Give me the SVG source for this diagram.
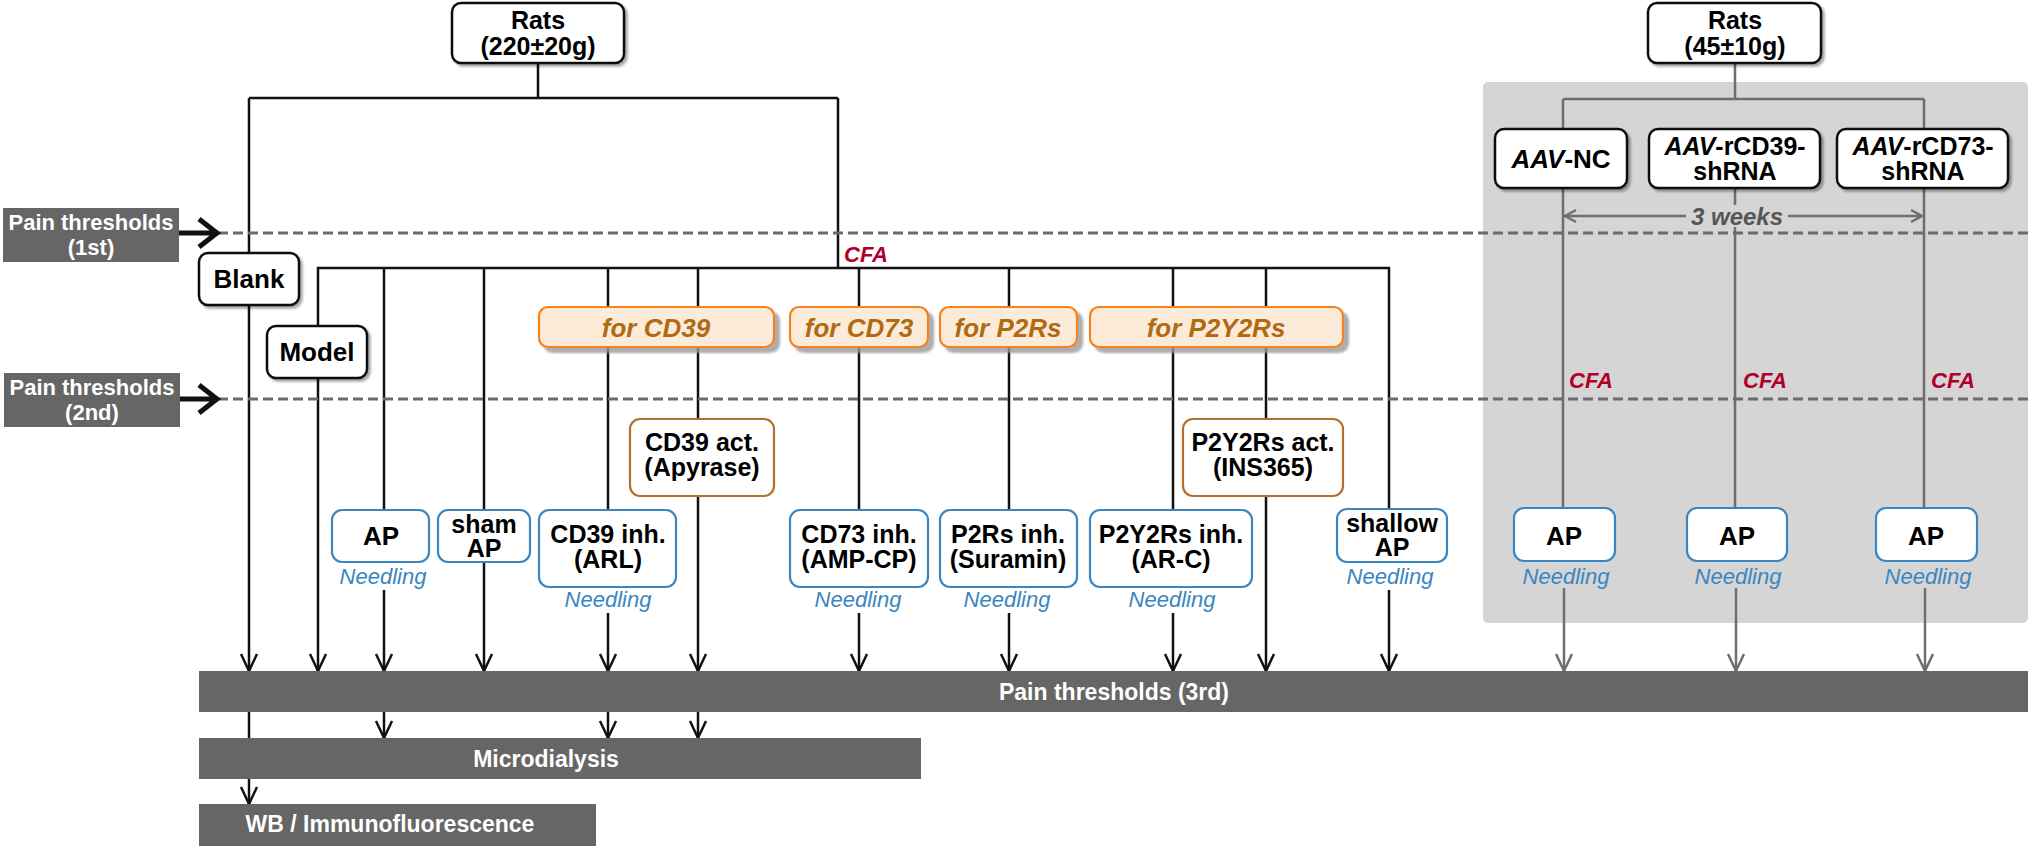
<svg xmlns="http://www.w3.org/2000/svg" width="2032" height="849" viewBox="0 0 2032 849">
<defs>
<style>
text{font-family:"Liberation Sans",Arial,sans-serif}
.bk{fill:#fff;stroke:#111;stroke-width:2.5}
.bl{fill:#fff;stroke:#3a86c0;stroke-width:2.2}
.fo{fill:#fdebd9;stroke:#f5821f;stroke-width:2.2}
.ac{fill:#fff;stroke:#b5702a;stroke-width:2.2}
.t{font-size:26px;font-weight:bold;fill:#000;text-anchor:middle}
.t2{font-size:25px;font-weight:bold;fill:#000;text-anchor:middle}
.ft{font-size:26px;font-weight:bold;font-style:italic;fill:#b06a12;text-anchor:middle}
.nd{font-size:22px;font-style:italic;fill:#3a86c0;text-anchor:middle}
.cfa{font-size:22px;font-weight:bold;font-style:italic;fill:#b0002a}
.bar{fill:#666}
.bt{font-size:23px;font-weight:bold;fill:#fff;text-anchor:middle}
.pt{font-size:22px;font-weight:bold;fill:#fff;text-anchor:middle}
.ln{stroke:#111;stroke-width:2.5;fill:none}
.lg{stroke:#6e6e6e;stroke-width:2.5;fill:none}
.dash{stroke:#6b6b6b;stroke-width:3;stroke-dasharray:10 5;fill:none}
.sh{filter:url(#sh)}
.shf{filter:url(#shf)}
</style>
<filter id="sh" x="-10%" y="-10%" width="130%" height="140%"><feDropShadow dx="2.5" dy="2.5" stdDeviation="1.2" flood-color="#000" flood-opacity="0.35"/></filter>
<filter id="shf" x="-10%" y="-20%" width="130%" height="160%"><feDropShadow dx="5" dy="5" stdDeviation="1.2" flood-color="#999" flood-opacity="0.8"/></filter>
<marker id="ab" markerUnits="userSpaceOnUse" viewBox="-20 -10 22 20" markerWidth="22" markerHeight="20" refX="0" refY="0" orient="auto"><path d="M-17,-8 L0,0 L-17,8" fill="none" stroke="#111" stroke-width="2.5"/></marker>
<marker id="ag" markerUnits="userSpaceOnUse" viewBox="-20 -10 22 20" markerWidth="22" markerHeight="20" refX="0" refY="0" orient="auto"><path d="M-17,-8 L0,0 L-17,8" fill="none" stroke="#6e6e6e" stroke-width="2.5"/></marker>
<marker id="aw" markerUnits="userSpaceOnUse" viewBox="-14 -8 16 16" markerWidth="16" markerHeight="16" refX="0" refY="0" orient="auto"><path d="M-11,-6 L0,0 L-11,6" fill="none" stroke="#6e6e6e" stroke-width="2.5"/></marker>
</defs>
<rect width="2032" height="849" fill="#fff"/>
<g id="panel"><rect x="1483" y="82" width="545" height="541" rx="5" fill="#d5d5d5"/></g>
<g id="connectors">
<path class="ln" d="M538,63 V98 M249,98 H838 M838,98 V268 M318,326 V268 H1389 V509"/>
<path class="ln" d="M249,98 V671" marker-end="url(#ab)"/>
<path class="ln" d="M249,712 V804" marker-end="url(#ab)"/>
<path class="ln" d="M318,378 V671" marker-end="url(#ab)"/>
<path class="ln" d="M384,268 V510 M484,268 V510 M608,268 V510 M698,268 V419 M859,268 V510 M1009,268 V510 M1173,268 V510 M1266,268 V419"/>
<path class="ln" d="M384,590 V671" marker-end="url(#ab)"/>
<path class="ln" d="M384,712 V738" marker-end="url(#ab)"/>
<path class="ln" d="M484,562 V671" marker-end="url(#ab)"/>
<path class="ln" d="M608,613 V671" marker-end="url(#ab)"/>
<path class="ln" d="M608,712 V738" marker-end="url(#ab)"/>
<path class="ln" d="M698,496 V671" marker-end="url(#ab)"/>
<path class="ln" d="M698,712 V738" marker-end="url(#ab)"/>
<path class="ln" d="M859,613 V671" marker-end="url(#ab)"/>
<path class="ln" d="M1009,613 V671" marker-end="url(#ab)"/>
<path class="ln" d="M1173,613 V671" marker-end="url(#ab)"/>
<path class="ln" d="M1266,496 V671" marker-end="url(#ab)"/>
<path class="ln" d="M1389,590 V671" marker-end="url(#ab)"/>
<path class="lg" d="M1735,63 V99 M1563,99 H1924 M1563,99 V129 M1924,99 V129 M1563,188 V508 M1735,188 V205 M1735,227 V508 M1924,188 V508"/>
<path class="lg" d="M1564,588 V671" marker-end="url(#ag)"/>
<path class="lg" d="M1736,588 V671" marker-end="url(#ag)"/>
<path class="lg" d="M1925,588 V671" marker-end="url(#ag)"/>
<path class="lg" d="M1686,216 H1565" marker-end="url(#aw)"/>
<path class="lg" d="M1788,216 H1922" marker-end="url(#aw)"/>
<path class="dash" d="M218,233 H2032 M218,399 H2032"/>
<path d="M179,233 H214 M199,219 L217,233 L199,247" fill="none" stroke="#111" stroke-width="5"/>
<path d="M180,399 H214 M199,385 L217,399 L199,413" fill="none" stroke="#111" stroke-width="5"/>
</g>
<g id="pain1"><rect x="3" y="208" width="176" height="54" fill="#666"/><text class="pt" x="91" y="230">Pain thresholds</text><text class="pt" x="91" y="255">(1st)</text></g>
<g id="pain2"><rect x="4" y="373" width="176" height="54" fill="#666"/><text class="pt" x="92" y="395">Pain thresholds</text><text class="pt" x="92" y="420">(2nd)</text></g>
<g id="rats1"><rect class="bk sh" x="452" y="3" width="172" height="60" rx="9"/><text class="t2" x="538" y="29">Rats</text><text class="t2" x="538" y="55">(220±20g)</text></g>
<g id="blank"><rect class="bk sh" x="199" y="253" width="100" height="52" rx="9"/><text class="t" x="249" y="288">Blank</text></g>
<g id="model"><rect class="bk sh" x="267" y="326" width="100" height="52" rx="9"/><text class="t" x="317" y="361">Model</text></g>
<g id="cfa-left"><text class="cfa" x="844" y="262">CFA</text></g>
<g id="for-cd39"><rect class="fo shf" x="539" y="307" width="235" height="40" rx="9"/><text class="ft" x="656" y="337">for CD39</text></g>
<g id="for-cd73"><rect class="fo shf" x="790" y="307" width="138" height="40" rx="9"/><text class="ft" x="859" y="337">for CD73</text></g>
<g id="for-p2rs"><rect class="fo shf" x="940" y="307" width="137" height="40" rx="9"/><text class="ft" x="1008" y="337">for P2Rs</text></g>
<g id="for-p2y2rs"><rect class="fo shf" x="1090" y="307" width="253" height="40" rx="9"/><text class="ft" x="1216" y="337">for P2Y2Rs</text></g>
<g id="cd39-act"><rect class="ac" x="630" y="419" width="144" height="77" rx="10"/><text class="t2" x="702" y="451">CD39 act.</text><text class="t2" x="702" y="476">(Apyrase)</text></g>
<g id="p2y2rs-act"><rect class="ac" x="1183" y="419" width="160" height="77" rx="10"/><text class="t2" x="1263" y="451">P2Y2Rs act.</text><text class="t2" x="1263" y="476">(INS365)</text></g>
<g id="ap"><rect class="bl" x="332" y="510" width="97" height="52" rx="10"/><text class="t" x="381" y="545">AP</text><text class="nd" x="383" y="584">Needling</text></g>
<g id="sham-ap"><rect class="bl" x="438" y="510" width="92" height="52" rx="10"/><text class="t2" x="484" y="533">sham</text><text class="t2" x="484" y="557">AP</text></g>
<g id="cd39-inh"><rect class="bl" x="539" y="510" width="137" height="77" rx="10"/><text class="t2" x="608" y="543">CD39 inh.</text><text class="t2" x="608" y="568">(ARL)</text><text class="nd" x="608" y="607">Needling</text></g>
<g id="cd73-inh"><rect class="bl" x="790" y="510" width="138" height="77" rx="10"/><text class="t2" x="859" y="543">CD73 inh.</text><text class="t2" x="859" y="568">(AMP-CP)</text><text class="nd" x="858" y="607">Needling</text></g>
<g id="p2rs-inh"><rect class="bl" x="940" y="510" width="137" height="77" rx="10"/><text class="t2" x="1008" y="543">P2Rs inh.</text><text class="t2" x="1008" y="568">(Suramin)</text><text class="nd" x="1007" y="607">Needling</text></g>
<g id="p2y2rs-inh"><rect class="bl" x="1090" y="510" width="162" height="77" rx="10"/><text class="t2" x="1171" y="543">P2Y2Rs inh.</text><text class="t2" x="1171" y="568">(AR-C)</text><text class="nd" x="1172" y="607">Needling</text></g>
<g id="shallow-ap"><rect class="bl" x="1337" y="509" width="110" height="53" rx="10"/><text class="t2" x="1392" y="532">shallow</text><text class="t2" x="1392" y="556">AP</text><text class="nd" x="1390" y="584">Needling</text></g>
<g id="rats2"><rect class="bk sh" x="1648" y="3" width="173" height="60" rx="9"/><text class="t2" x="1735" y="29">Rats</text><text class="t2" x="1735" y="55">(45±10g)</text></g>
<g id="aav-nc"><rect class="bk sh" x="1495" y="129" width="132" height="59" rx="9"/><text class="t" x="1561" y="168"><tspan font-style="italic">AAV</tspan>-NC</text></g>
<g id="aav-cd39"><rect class="bk sh" x="1649" y="129" width="171" height="59" rx="9"/><text class="t2" x="1735" y="155"><tspan font-style="italic">AAV</tspan>-rCD39-</text><text class="t2" x="1735" y="180">shRNA</text></g>
<g id="aav-cd73"><rect class="bk sh" x="1837" y="129" width="171" height="59" rx="9"/><text class="t2" x="1923" y="155"><tspan font-style="italic">AAV</tspan>-rCD73-</text><text class="t2" x="1923" y="180">shRNA</text></g>
<g id="weeks"><text x="1737" y="225" style="font-size:24px;font-weight:bold;font-style:italic;fill:#555;text-anchor:middle">3 weeks</text></g>
<g id="cfa-right"><text class="cfa" x="1569" y="388">CFA</text><text class="cfa" x="1743" y="388">CFA</text><text class="cfa" x="1931" y="388">CFA</text></g>
<g id="ap-nc"><rect class="bl" x="1514" y="508" width="101" height="53" rx="10"/><text class="t" x="1564" y="545">AP</text><text class="nd" x="1566" y="584">Needling</text></g>
<g id="ap-cd39"><rect class="bl" x="1687" y="508" width="100" height="53" rx="10"/><text class="t" x="1737" y="545">AP</text><text class="nd" x="1738" y="584">Needling</text></g>
<g id="ap-cd73"><rect class="bl" x="1876" y="508" width="101" height="53" rx="10"/><text class="t" x="1926" y="545">AP</text><text class="nd" x="1928" y="584">Needling</text></g>
<g id="pain3"><rect class="bar" x="199" y="671" width="1829" height="41"/><text class="bt" x="1114" y="700">Pain thresholds (3rd)</text></g>
<g id="microdialysis"><rect class="bar" x="199" y="738" width="722" height="41"/><text class="bt" x="546" y="767">Microdialysis</text></g>
<g id="wb"><rect class="bar" x="199" y="804" width="397" height="42"/><text class="bt" x="390" y="832">WB / Immunofluorescence</text></g>
</svg>
